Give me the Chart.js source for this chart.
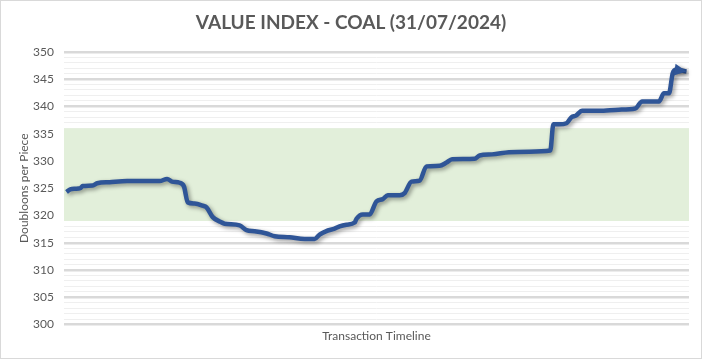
<!DOCTYPE html>
<html><head><meta charset="utf-8">
<script src="https://cdn.jsdelivr.net/npm/chart.js@4"></script>
<style>
html,body{margin:0;padding:0;background:#fff}
#wrap{position:relative;width:704px;height:359px}
#frame{position:absolute;left:0;top:0;width:700px;height:357px;border:1px solid #d9d9d9;pointer-events:none}
</style></head><body>
<div id="wrap"><canvas id="c" width="704" height="359"></canvas><div id="frame"></div></div>
<script>
const chartTitle = 'VALUE INDEX - COAL (31/07/2024)';
const xTitle = 'Transaction Timeline';
const yTitle = 'Doubloons per Piece';
const timeline = [0.4,1.0,1.8,2.6,3.0,4.6,5.3,7.3,10.1,15.3,16.5,17.3,18.5,19.2,19.8,20.9,22.2,22.8,23.8,24.9,25.7,28.1,29.2,30.5,32.4,33.7,36.1,38.5,40.1,40.9,41.9,43.3,44.1,45.2,46.5,46.8,47.8,48.9,50.0,51.0,51.8,53.7,54.5,55.6,56.9,58.0,60.1,61.2,62.1,65.7,66.5,68.5,71.2,74.4,77.8,78.3,79.2,80.4,81.2,81.9,82.9,85.6,88.8,91.4,92.5,95.2,96.0,96.8,97.4,97.9,99.6];
const coalIndex = [324.3,324.8,324.9,325.0,325.4,325.5,325.9,326.1,326.3,326.3,326.7,326.2,326.0,325.3,322.4,322.2,321.8,321.5,319.7,318.9,318.5,318.2,317.3,317.1,316.7,316.2,316.0,315.7,315.7,316.5,317.1,317.6,318.0,318.3,318.7,319.4,320.2,320.2,322.6,323.0,323.7,323.7,324.1,326.2,326.4,329.0,329.1,329.7,330.3,330.4,331.0,331.2,331.6,331.7,331.9,336.7,336.7,336.9,338.0,338.3,339.2,339.2,339.4,339.6,340.9,340.9,342.4,342.4,346.1,346.7,346.4];
const bandX = [0, 100];
const bandLow = [319, 319];
const bandHigh = [336, 336];
const yMin = 300, yMax = 350, yMajorStep = 5, yMinorStep = 1;

const lineColor = '#2f5597';
const FONT = 'Lato, "Open Sans", sans-serif';

const arrowPlugin = {
  id: 'arrowShadow',
  beforeDatasetDraw(chart, args) {
    if (args.index !== 2) return;
    const ctx = chart.ctx;
    ctx.save();
    ctx.shadowColor = 'rgba(0,0,0,0.4)';
    ctx.shadowBlur = 4;
    ctx.shadowOffsetX = 2;
    ctx.shadowOffsetY = 2;
  },
  afterDatasetDraw(chart, args) {
    if (args.index !== 2) return;
    const ctx = chart.ctx;
    const pts = args.meta.data;
    const p1 = pts[pts.length - 2], p2 = pts[pts.length - 1];
    const ang = Math.atan2(p2.y - p1.y, p2.x - p1.x);
    const len = 12, half = 6;
    ctx.beginPath();
    ctx.moveTo(p2.x, p2.y);
    ctx.lineTo(p2.x - len * Math.cos(ang) + half * Math.sin(ang), p2.y - len * Math.sin(ang) - half * Math.cos(ang));
    ctx.lineTo(p2.x - len * Math.cos(ang) - half * Math.sin(ang), p2.y - len * Math.sin(ang) + half * Math.cos(ang));
    ctx.closePath();
    ctx.fillStyle = lineColor;
    ctx.fill();
    ctx.restore();
  }
};

new Chart(document.getElementById('c'), {
  type: 'line',
  data: {
    datasets: [
      { data: bandX.map((x, i) => ({x, y: bandLow[i]})), borderWidth: 0, pointRadius: 0, fill: false, order: 3 },
      { data: bandX.map((x, i) => ({x, y: bandHigh[i]})), borderWidth: 0, pointRadius: 0, fill: '-1', backgroundColor: '#e2efda', order: 2 },
      { data: timeline.map((x, i) => ({x, y: coalIndex[i]})), borderColor: lineColor, borderWidth: 4.5, pointRadius: 0,
        cubicInterpolationMode: 'monotone', borderJoinStyle: 'round', borderCapStyle: 'butt', fill: false, order: 1 }
    ]
  },
  options: {
    responsive: false,
    animation: false,
    layout: { padding: { left: 13, right: 15, top: 0, bottom: 12 } },
    plugins: {
      legend: { display: false },
      tooltip: { enabled: false },
      title: { display: true, text: chartTitle, color: '#595959', font: { family: FONT, size: 19, weight: 'bold' }, padding: { top: 11, bottom: 18 } }
    },
    scales: {
      x: {
        type: 'linear', min: 0, max: 100,
        grid: { display: false, drawTicks: false }, border: { display: false },
        ticks: { display: false },
        title: { display: true, text: xTitle, color: '#595959', font: { family: FONT, size: 12 }, padding: { top: 4, bottom: 4 } }
      },
      y: {
        min: yMin, max: yMax,
        afterFit(scale) { scale.width = 51; },
        border: { display: false },
        grid: {
          drawTicks: false,
          color: c => (c.tick && c.tick.value % yMajorStep === 0) ? '#d9d9d9' : '#efefef',
          lineWidth: c => (c.tick && c.tick.value % yMajorStep === 0) ? 2.5 : 1
        },
        ticks: {
          stepSize: yMinorStep, autoSkip: false, padding: 10, color: '#595959',
          font: { family: FONT, size: 12 },
          callback: v => (v % yMajorStep === 0) ? String(v) : ''
        },
        title: { display: true, text: yTitle, color: '#595959', font: { family: FONT, size: 12 }, padding: { top: 4, bottom: 4 } }
      }
    }
  },
  plugins: [arrowPlugin]
});
</script>
</body></html>
